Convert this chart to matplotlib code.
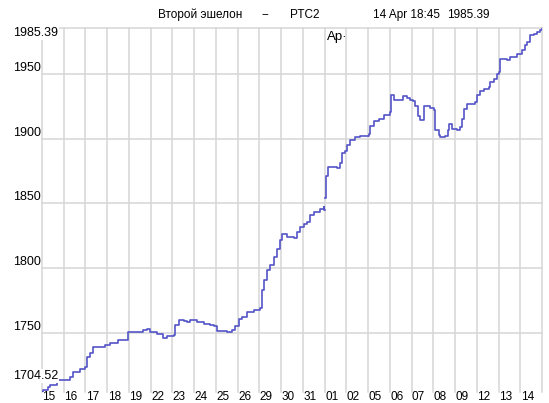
import numpy as np
import matplotlib
matplotlib.use('Agg')
import matplotlib.pyplot as plt

# trading days shown on the x axis (Mar 15 .. Apr 14)
day_labels = ['15', '16', '17', '18', '19', '22', '23', '24', '25', '26', '29', '30',
              '31', '01', '02', '05', '06', '07', '08', '09', '12', '13', '14']

y_min, y_max = 1704.52, 1985.39
y_ticks = [1750, 1800, 1850, 1900, 1950]

title_parts = ['Второй эшелон', '--', 'РТС2', '14 Apr 18:45', '1985.39']

# time in trading-day units, index value
t = [0, 0.05, 0.28, 0.37, 0.69, 1.20, 1.29, 1.43, 1.75, 1.98,
     2.06, 2.21, 2.36, 2.67, 2.90, 3.13, 3.44, 3.51, 3.82, 3.97,
     4.66, 4.82, 4.97, 5.28, 5.58, 5.74, 6.05, 6.12, 6.28, 6.51,
     6.66, 6.81, 7.12, 7.43, 7.73, 7.89, 8.04, 8.50, 8.73, 8.89,
     9.04, 9.19, 9.42, 9.73, 10.04, 10.11, 10.22, 10.35, 10.50, 10.65,
     10.81, 10.93, 11.04, 11.27, 11.57, 11.73, 11.88, 12.03, 12.19, 12.34,
     12.49, 12.80, 12.95, 12.98, 13.0, 13.03, 13.08, 13.14, 13.57, 13.72,
     13.80, 13.95, 14.03, 14.18, 14.41, 14.64, 15.02, 15.10, 15.25, 15.48,
     15.71, 15.99, 16.05, 16.17, 16.61, 16.79, 16.94, 17.07, 17.17, 17.28,
     17.40, 17.59, 17.86, 18.05, 18.09, 18.25, 18.32, 18.55, 18.66, 18.71,
     18.86, 19.09, 19.24, 19.32, 19.40, 19.55, 19.94, 20.01, 20.17, 20.32,
     20.55, 20.63, 20.78, 20.93, 21.01, 21.09, 21.39, 21.55, 21.86, 22.01,
     22.09, 22.24, 22.32, 22.47, 22.62, 22.78, 22.93, 23.0]
price = [1704.5, 1705.7, 1708.0, 1709.6, 1713.4, 1713.4, 1716.0, 1719.9, 1722.5, 1723.7,
         1731.5, 1734.3, 1739.2, 1739.2, 1740.5, 1742.3, 1742.3, 1744.4, 1744.4, 1750.8,
         1752.0, 1752.8, 1750.8, 1749.5, 1746.4, 1747.4, 1748.2, 1756.0, 1760.3, 1759.3,
         1758.5, 1759.8, 1758.8, 1757.2, 1756.5, 1755.5, 1751.5, 1751.2, 1752.0, 1755.5,
         1760.5, 1762.4, 1766.0, 1768.1, 1769.5, 1783.0, 1790.7, 1798.4, 1802.3, 1808.7,
         1815.2, 1821.6, 1826.8, 1824.2, 1823.0, 1828.1, 1832.0, 1834.0, 1835.8, 1841.0,
         1843.5, 1846.1, 1847.4, 1844.8, np.nan, 1854.2, 1870.9, 1878.1, 1877.4, 1881.2,
         1889.0, 1890.2, 1895.4, 1899.2, 1901.3, 1902.3, 1903.9, 1909.5, 1913.4, 1915.2,
         1918.5, 1920.6, 1934.0, 1930.1, 1932.7, 1931.5, 1930.1, 1928.8, 1925.0, 1917.2,
         1914.7, 1925.0, 1924.0, 1922.3, 1906.3, 1902.5, 1901.2, 1902.0, 1906.3, 1911.0,
         1907.6, 1906.8, 1908.9, 1915.4, 1923.1, 1927.0, 1928.2, 1933.4, 1936.7, 1938.6,
         1939.8, 1943.7, 1946.3, 1950.2, 1951.4, 1961.7, 1961.0, 1963.0, 1965.1, 1965.6,
         1968.7, 1972.0, 1974.6, 1979.8, 1981.1, 1982.3, 1984.2, 1985.39]

plt.rcParams['font.family'] = ['Liberation Sans', 'DejaVu Sans']

W, H = 549, 403
fig = plt.figure(figsize=(W / 100, H / 100), dpi=100)
fig.patch.set_facecolor('white')

# plot area in pixels: x 42..542, y 28..392
ax = fig.add_axes([42 / W, 1 - 392 / H, 500 / W, 364 / H])
ax.set_xlim(0, len(day_labels))
ax.set_ylim(y_min, y_max)
ax.axis('off')

grid_c = '#d6d6d6'
for i in range(len(day_labels) + 1):
    ax.axvline(i, color=grid_c, lw=1.1, zorder=0, clip_on=False)
for y in y_ticks + [y_max]:
    ax.axhline(y, color=grid_c, lw=1.1, zorder=0, clip_on=False)

ax.plot(t, price, drawstyle='steps-post', color='#5454c8', lw=1.2, zorder=2)

fs = 9
box = dict(facecolor='white', edgecolor='none', pad=0.6)

# y labels, left aligned at the figure edge
for y in y_ticks:
    ax.annotate(str(y), xy=(13 / W, y), xycoords=('figure fraction', 'data'),
                ha='left', va='bottom', fontsize=fs, color='black')
ax.annotate(f'{y_max:.2f}', xy=(13 / W, y_max), xycoords=('figure fraction', 'data'),
            xytext=(0, 0.5), textcoords='offset points',
            ha='left', va='top', fontsize=fs, bbox=box, zorder=5)
ax.annotate(f'{y_min:.2f}', xy=(13 / W, y_min), xycoords=('figure fraction', 'data'),
            xytext=(0, 7), textcoords='offset points',
            ha='left', va='bottom', fontsize=fs, bbox=box, zorder=5)

# x labels, squeezed against the bottom edge
for i, lab in enumerate(day_labels):
    ax.annotate(lab, xy=(i, 1 - 402.5 / H), xycoords=('data', 'figure fraction'),
                xytext=(0.3, 0), textcoords='offset points',
                ha='left', va='bottom', fontsize=8.5)

# header
title_x = [158, 262, 290, 373, 447]
for x, s in zip(title_x, title_parts):
    fig.text(x / W, 1 - 15 / H, s, ha='left', va='center', fontsize=8.5)
fig.text(327 / W, 1 - 37 / H, 'Ap·', ha='left', va='center', fontsize=9.5)

fig.savefig('out.png', dpi=100)
